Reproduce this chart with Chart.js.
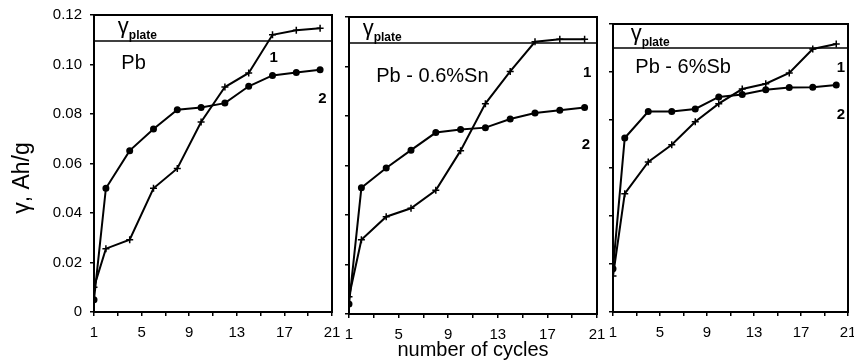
<!DOCTYPE html>
<html>
<head>
<meta charset="utf-8">
<script src="https://cdn.jsdelivr.net/npm/chart.js@4/dist/chart.umd.min.js"></script>
<style>
  body { margin: 0; background: #fff; width: 854px; height: 362px; position: relative; overflow: hidden; }
  .panel { position: absolute; top: 0; height: 362px; }
</style>
</head>
<body>
<div class="panel" style="left:0;width:340px"><canvas id="pbChart"></canvas></div>
<div class="panel" style="left:340px;width:265px"><canvas id="snChart"></canvas></div>
<div class="panel" style="left:605px;width:249px"><canvas id="sbChart"></canvas></div>
<script>
// cycle numbers where the capacity was measured
const cycles = [1, 2, 4, 6, 8, 10, 12, 14, 16, 18, 20];

// gamma, Ah/g — curve 1 and curve 2 of every alloy
const pbCurve1 = [0.010, 0.0256, 0.0292, 0.050, 0.058, 0.0768, 0.0909, 0.0966, 0.112, 0.1138, 0.1146];
const pbCurve2 = [0.005, 0.050, 0.0652, 0.0739, 0.0817, 0.0826, 0.0844, 0.0912, 0.0956, 0.0968, 0.0979];
const snCurve1 = [0.007, 0.030, 0.0393, 0.0427, 0.050, 0.066, 0.085, 0.098, 0.110, 0.111, 0.111];
const snCurve2 = [0.004, 0.051, 0.059, 0.0662, 0.0733, 0.0745, 0.0753, 0.0788, 0.0812, 0.0823, 0.0834];
const sbCurve1 = [0.015, 0.0493, 0.0625, 0.0697, 0.0793, 0.0868, 0.0929, 0.0951, 0.0996, 0.1096, 0.1117];
const sbCurve2 = [0.018, 0.0725, 0.0835, 0.0835, 0.0846, 0.0896, 0.0906, 0.0926, 0.0935, 0.0936, 0.0946];

// plate capacity level per panel
const plateLevels = [0.1095, 0.1095, 0.110];
const panelNames = ["Pb", "Pb - 0.6%Sn", "Pb - 6%Sb"];
const xTicks = [1, 5, 9, 13, 17, 21];

const FONT = "'Liberation Sans', Arial, Helvetica, sans-serif";
Chart.defaults.font.family = FONT;
Chart.defaults.font.size = 15;
Chart.defaults.color = "#000";

const toPoints = (ys) => cycles.map((c, i) => ({ x: c, y: ys[i] }));

// draws the frame, the plate line label, the panel name and curve numbers
const panelNotes = (cfg) => ({
  id: "panelNotes",
  afterDraw(chart) {
    const { ctx, chartArea: a, scales } = chart;
    const x = scales.x, y = scales.y;
    ctx.save();
    ctx.strokeStyle = "#000";
    ctx.lineWidth = 2;
    ctx.strokeRect(a.left, a.top, a.width, a.height);

    ctx.fillStyle = "#000";
    ctx.textBaseline = "alphabetic";
    ctx.textAlign = "left";
    const lineY = y.getPixelForValue(cfg.plate);
    const gx = x.getPixelForValue(cfg.gammaX);
    ctx.font = "22px " + FONT;
    ctx.fillText("γ", gx, lineY - 8);
    const gw = ctx.measureText("γ").width;
    ctx.font = "bold 12px " + FONT;
    ctx.fillText("plate", gx + gw, lineY - 2);

    ctx.font = "20px " + FONT;
    ctx.textBaseline = "middle";
    ctx.fillText(cfg.name, x.getPixelForValue(cfg.nameAt[0]), y.getPixelForValue(cfg.nameAt[1]));

    ctx.font = "bold 15px " + FONT;
    ctx.textAlign = "center";
    ctx.fillText("1", x.getPixelForValue(cfg.one[0]), y.getPixelForValue(cfg.one[1]));
    ctx.fillText("2", x.getPixelForValue(cfg.two[0]), y.getPixelForValue(cfg.two[1]));

    if (cfg.yTitle) {
      ctx.translate(23, 178);
      ctx.rotate(-Math.PI / 2);
      ctx.font = "23px " + FONT;
      ctx.fillText(cfg.yTitle, 0, 0);
    }
    ctx.restore();
  },
});

const makePanel = (id, c1, c2, cfg) => {
  new Chart(document.getElementById(id), {
    type: "line",
    data: {
      datasets: [
        {
          data: toPoints(c1),
          borderColor: "#000",
          borderWidth: 2,
          pointStyle: "cross",
          pointRadius: 3.5,
          pointBorderWidth: 1.5,
          pointBorderColor: "#000",
          tension: 0,
        },
        {
          data: toPoints(c2),
          borderColor: "#000",
          backgroundColor: "#000",
          borderWidth: 2,
          pointStyle: "circle",
          pointRadius: 2.5,
          pointBackgroundColor: "#000",
          pointBorderColor: "#000",
          tension: 0,
        },
        {
          data: [{ x: 1, y: cfg.plate }, { x: 21, y: cfg.plate }],
          borderColor: "#000",
          borderWidth: 1.5,
          pointRadius: 0,
        },
      ],
    },
    options: {
      responsive: true,
      maintainAspectRatio: false,
      animation: false,
      events: [],
      layout: { padding: { top: cfg.top, right: cfg.right, left: 0, bottom: 0 } },
      plugins: { legend: { display: false }, tooltip: { enabled: false } },
      scales: {
        x: {
          type: "linear",
          min: 1,
          max: 21,
          border: { display: false },
          grid: { drawOnChartArea: false, drawTicks: true, tickLength: 4, color: "#000", lineWidth: 1.5 },
          ticks: {
            stepSize: 2,
            autoSkip: false,
            maxRotation: 0,
            padding: 8,
            callback: (v) => (xTicks.includes(v) ? v : ""),
          },
          title: cfg.xTitle
            ? { display: true, text: cfg.xTitle, font: { size: 20 }, padding: { top: 0, bottom: 0 } }
            : { display: false },
          afterFit: (s) => {
            s.height = cfg.xHeight;
            // let the end labels hang over the edges instead of shrinking the plot
            s.paddingLeft = 0;
            s.paddingRight = 0;
          },
        },
        y: {
          min: 0,
          max: 0.12,
          border: { display: false },
          grid: { drawOnChartArea: false, drawTicks: true, tickLength: 4, color: "#000", lineWidth: 1.5 },
          ticks: {
            stepSize: 0.02,
            padding: 8,
            callback: (v) => (cfg.yLabels ? (v === 0 ? "0" : v.toFixed(2)) : ""),
          },
          afterFit: (s) => {
            s.width = cfg.yWidth;
            s.paddingTop = 0;
            s.paddingBottom = 0;
          },
        },
      },
    },
    plugins: [panelNotes(cfg)],
  });
};

makePanel("pbChart", pbCurve1, pbCurve2, {
  name: panelNames[0], plate: plateLevels[0],
  top: 15, right: 8, yWidth: 94, xHeight: 50, yLabels: true,
  gammaX: 3.0, nameAt: [3.3, 0.1005], one: [16.1, 0.1025], two: [20.2, 0.086],
  yTitle: "γ, Ah/g",
});
makePanel("snChart", snCurve1, snCurve2, {
  name: panelNames[1], plate: plateLevels[1],
  top: 17, right: 8, yWidth: 9, xHeight: 48, yLabels: false, xTitle: "number of cycles",
  gammaX: 2.1, nameAt: [3.2, 0.0958], one: [20.2, 0.0976], two: [20.1, 0.0685],
});
makePanel("sbChart", sbCurve1, sbCurve2, {
  name: panelNames[2], plate: plateLevels[2],
  top: 24, right: 4, yWidth: 8, xHeight: 50, yLabels: false,
  gammaX: 2.5, nameAt: [2.9, 0.1017], one: [20.4, 0.1017], two: [20.4, 0.0822],
});
</script>
</body>
</html>
